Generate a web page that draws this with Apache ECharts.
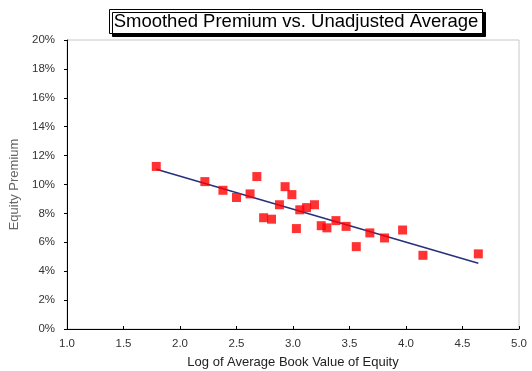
<!DOCTYPE html>
<html>
<head>
<meta charset="utf-8">
<script src="https://cdn.jsdelivr.net/npm/echarts@6/dist/echarts.min.js"></script>
<style>
html, body { margin: 0; padding: 0; background: #fff; }
#chart { width: 532px; height: 371px; }
</style>
</head>
<body>
<div id="chart"></div>
<script>
// log of average book value of equity vs equity premium (%)
const logBookValue = [1.79, 2.22, 2.38, 2.50, 2.62, 2.68, 2.74, 2.81, 2.88, 2.93, 2.99, 3.03, 3.06, 3.12, 3.19,
  3.25, 3.30, 3.38, 3.47, 3.56, 3.68, 3.81, 3.97, 4.15, 4.64]
const premium = [11.25, 10.2, 9.6, 9.1, 9.35, 10.55, 7.7, 7.6, 8.6, 9.85, 9.3, 6.95, 8.25, 8.4, 8.6,
  7.15, 7.0, 7.5, 7.1, 5.7, 6.65, 6.3, 6.85, 5.1, 5.2]
// smoothed (fitted) line end points
const fitX = [1.79, 4.64]
const fitY = [11.05, 4.55]

const chart = echarts.init(document.getElementById('chart'))
const font = 'Arial, "Liberation Sans", sans-serif'

chart.setOption({
  animation: false,
  title: {
    text: 'Smoothed Premium vs. Unadjusted Average',
    left: 292,
    textAlign: 'center',
    top: 9,
    padding: [3, 4, 3, 4],
    borderColor: '#000',
    borderWidth: 1,
    backgroundColor: '#fff',
    shadowColor: '#000',
    shadowBlur: 0,
    shadowOffsetX: 3,
    shadowOffsetY: 3,
    textStyle: { fontFamily: font, fontSize: 18.5, fontWeight: 'normal', color: '#000' }
  },
  grid: {
    left: 67,
    right: 13,
    top: 40,
    bottom: 42,
    outerBoundsMode: 'none',
    show: true,
    borderColor: '#c8c8c8',
    borderWidth: 1
  },
  xAxis: {
    type: 'value',
    min: 1,
    max: 5,
    interval: 0.5,
    name: 'Log of Average Book Value of Equity',
    nameLocation: 'middle',
    nameGap: 27,
    nameTextStyle: { fontFamily: font, fontSize: 13, color: '#222' },
    axisLine: { lineStyle: { color: '#000', width: 1 } },
    axisTick: { inside: true, length: 3, lineStyle: { color: '#000' } },
    axisLabel: {
      fontFamily: font, fontSize: 11.5, color: '#333', margin: 9,
      formatter: v => v.toFixed(1)
    },
    splitLine: { show: false }
  },
  yAxis: {
    type: 'value',
    min: 0,
    max: 20,
    interval: 2,
    name: 'Equity Premium',
    nameLocation: 'middle',
    nameGap: 30,
    nameTextStyle: { fontFamily: font, fontSize: 13, color: '#666' },
    axisLine: { show: true, lineStyle: { color: '#000', width: 1 } },
    axisTick: { show: true, length: 3, lineStyle: { color: '#000' } },
    axisLabel: {
      fontFamily: font, fontSize: 11.5, color: '#333', margin: 12,
      formatter: v => v + '%'
    },
    splitLine: { show: false }
  },
  series: [
    {
      type: 'line',
      data: fitX.map((x, i) => [x, fitY[i]]),
      showSymbol: false,
      lineStyle: { color: '#26307a', width: 1.5 },
      z: 2
    },
    {
      type: 'scatter',
      data: logBookValue.map((x, i) => [x, premium[i]]),
      symbol: 'rect',
      symbolSize: 9,
      itemStyle: { color: '#ff0000' },
      z: 3
    }
  ]
})
</script>
</body>
</html>
